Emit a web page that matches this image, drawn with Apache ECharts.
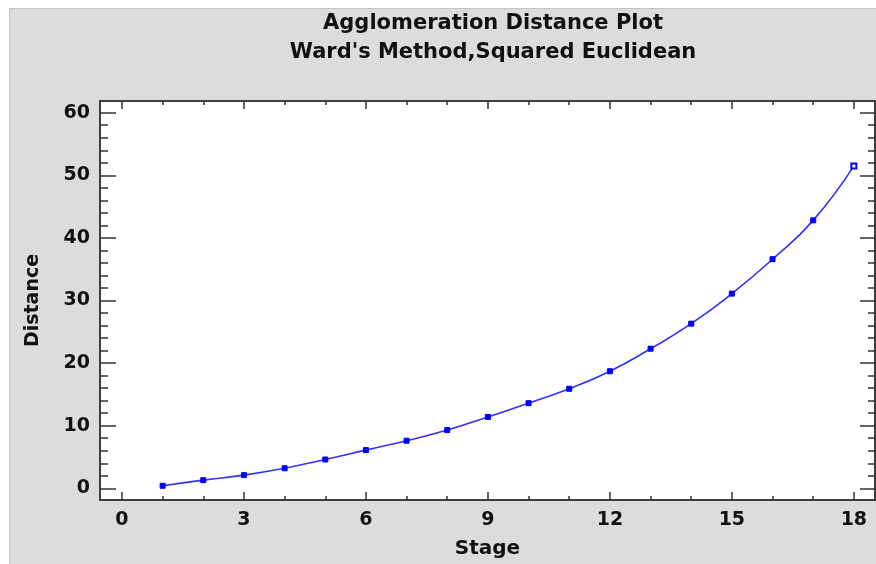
<!DOCTYPE html>
<html>
<head>
<meta charset="utf-8">
<script src="https://cdn.jsdelivr.net/npm/echarts@6/dist/echarts.min.js"></script>
<style>
html,body{margin:0;padding:0;background:#ffffff;}
#c{width:876px;height:564px;}
</style>
</head>
<body>
<div id="c"></div>
<script>
const stages = [1,2,3,4,5,6,7,8,9,10,11,12,13,14,15,16,17,18];
const distances = [0.4,1.3,2.1,3.2,4.6,6.1,7.6,9.3,11.4,13.6,15.9,18.7,22.3,26.3,31.1,36.6,42.8,51.5];
const xTickLabels = [0,3,6,9,12,15,18];
const xMinorTicks = [0,1,2,3,4,5,6,7,8,9,10,11,12,13,14,15,16,17,18];
const yTickLabels = [0,10,20,30,40,50,60];
const yMinorTicks = [0,2,4,6,8,10,12,14,16,18,20,22,24,26,28,30,32,34,36,38,40,42,44,46,48,50,52,54,56,58,60];

const XMIN = -0.54, XMAX = 18.52, YMIN = -1.87, YMAX = 61.87;
const FONT = '"DejaVu Sans", "Liberation Sans", Arial, sans-serif';
const tickColor = '#333333';

function xAx(pos, major, len, showLabel, showLine) {
  return {
    type: 'value', position: pos, min: XMIN, max: XMAX,
    axisLine: {show: showLine, onZero: false, lineStyle: {color: tickColor, width: 1.5}},
    axisTick: {show: true, inside: true, length: len, customValues: major, lineStyle: {color: tickColor, width: 1.5}},
    axisLabel: {show: showLabel, customValues: major, margin: 11, color: '#111', fontFamily: FONT, fontWeight: 'bold', fontSize: 19},
    splitLine: {show: false}
  };
}
function yAx(pos, major, len, showLabel, showLine) {
  return {
    type: 'value', position: pos, min: YMIN, max: YMAX,
    axisLine: {show: showLine, onZero: false, lineStyle: {color: tickColor, width: 1.5}},
    axisTick: {show: true, inside: true, length: len, customValues: major, lineStyle: {color: tickColor, width: 1.5}},
    axisLabel: {show: showLabel, customValues: major, margin: 10, color: '#111', fontFamily: FONT, fontWeight: 'bold', fontSize: 19},
    splitLine: {show: false}
  };
}

const xAxes = [
  xAx('bottom', xTickLabels, 8, true, true),
  xAx('bottom', xMinorTicks, 4, false, false),
  xAx('top', xTickLabels, 8, false, true),
  xAx('top', xMinorTicks, 4, false, false)
];
Object.assign(xAxes[0], {name: 'Stage', nameLocation: 'middle', nameGap: 39,
  nameTextStyle: {color: '#111', fontFamily: FONT, fontWeight: 'bold', fontSize: 20}});
const yAxes = [
  yAx('left', yTickLabels, 16, true, true),
  yAx('left', yMinorTicks, 8, false, false),
  yAx('right', yTickLabels, 15, false, true),
  yAx('right', yMinorTicks, 7, false, false)
];
Object.assign(yAxes[0], {name: 'Distance', nameLocation: 'middle', nameGap: 57, nameRotate: 90,
  nameTextStyle: {color: '#111', fontFamily: FONT, fontWeight: 'bold', fontSize: 19}});

const seriesData = stages.map((s, i) => {
  const d = {value: [s, distances[i]]};
  if (i === stages.length - 1) d.symbol = 'emptyRect';
  return d;
});

const chart = echarts.init(document.getElementById('c'), null, {renderer: 'canvas'});
chart.setOption({
  animation: false,
  backgroundColor: 'transparent',
  graphic: [{
    type: 'rect', z: -10, silent: true,
    shape: {x: 9.5, y: 8.5, width: 880, height: 570},
    style: {fill: '#dcdcdc', stroke: '#c4c4c4', lineWidth: 1}
  }],
  title: {
    text: "Agglomeration Distance Plot\nWard's Method,Squared Euclidean",
    left: 488, top: 4, textAlign: 'center',
    textStyle: {color: '#111', fontFamily: FONT, fontWeight: 'bold', fontSize: 21, lineHeight: 29}
  },
  grid: {left: 100, top: 101, right: 1, bottom: 64, show: true, backgroundColor: '#ffffff', borderColor: tickColor, borderWidth: 1.5, containLabel: false},
  xAxis: xAxes,
  yAxis: yAxes,
  series: [{
    type: 'line', xAxisIndex: 0, yAxisIndex: 0,
    data: seriesData,
    smooth: true,
    symbol: 'rect', symbolSize: 5,
    lineStyle: {color: '#3030ff', width: 1.6},
    itemStyle: {color: '#0000ff', borderColor: '#0000ff'}
  }]
});
</script>
</body>
</html>
